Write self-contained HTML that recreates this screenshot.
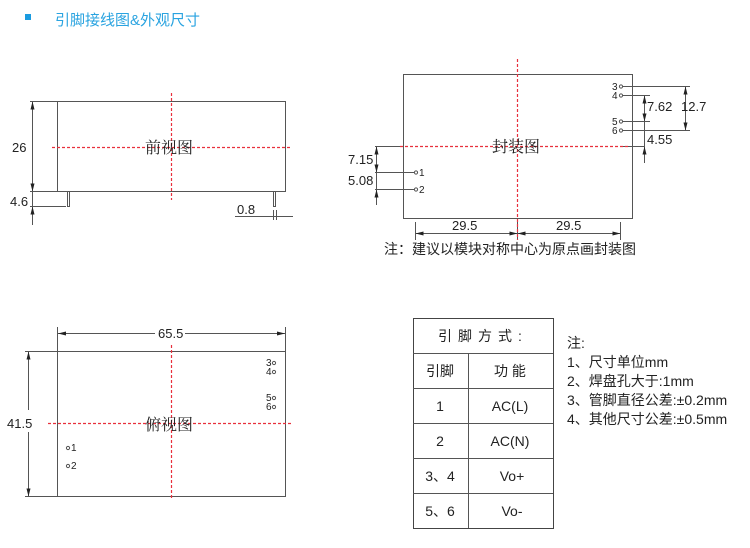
<!DOCTYPE html>
<html><head><meta charset="utf-8"><style>
body{margin:0;background:#fff;width:750px;height:548px;overflow:hidden}
svg{display:block}
text{font-family:"Liberation Sans","Noto Sans CJK SC",sans-serif;fill:#222}
.s{font-family:"Noto Serif CJK SC","Noto Sans CJK SC",serif}
</style></head><body>
<svg width="750" height="548" viewBox="0 0 750 548" xmlns="http://www.w3.org/2000/svg">
<defs>
<marker id="a" viewBox="0 0 10 10" refX="10" refY="5" markerWidth="8" markerHeight="8" orient="auto-start-reverse"><path d="M0,2.5 L10,5 L0,7.5z" fill="#222"/></marker>
</defs>
<rect x="25" y="14" width="6" height="6" fill="#1a9be0"/>
<text x="55" y="25" font-size="15" style="fill:#29a3e0">引脚接线图&amp;外观尺寸</text>

<g stroke="#555" fill="none" stroke-width="1">
<rect x="57.5" y="101.5" width="228" height="90"/>
<rect x="67.5" y="191.5" width="2" height="15"/>
<rect x="273.5" y="191.5" width="2" height="15"/>
<line x1="30" y1="101.5" x2="57" y2="101.5"/>
<line x1="30" y1="191.5" x2="57" y2="191.5"/>
<line x1="30" y1="206.5" x2="66" y2="206.5"/>
<line x1="32.5" y1="101.5" x2="32.5" y2="191.5" marker-start="url(#a)" marker-end="url(#a)"/>
<line x1="32.5" y1="191.5" x2="32.5" y2="225"/>
<line x1="32.5" y1="206.5" x2="32.5" y2="225" marker-start="url(#a)"/>
<line x1="235" y1="216.5" x2="293" y2="216.5"/>
<line x1="273.5" y1="210" x2="273.5" y2="220"/>
<line x1="276.5" y1="210" x2="276.5" y2="220"/>
<rect x="403.5" y="74.5" width="229" height="144"/>
<line x1="622" y1="86.5" x2="690" y2="86.5"/>
<line x1="622" y1="95.5" x2="650" y2="95.5"/>
<line x1="622" y1="121.5" x2="650" y2="121.5"/>
<line x1="622" y1="130.5" x2="690" y2="130.5"/>
<line x1="622" y1="146.5" x2="645" y2="146.5"/>
<line x1="644.5" y1="95.5" x2="644.5" y2="121.5" marker-start="url(#a)" marker-end="url(#a)"/>
<line x1="685.5" y1="86.5" x2="685.5" y2="130.5" marker-start="url(#a)" marker-end="url(#a)"/>
<line x1="644.5" y1="121.5" x2="644.5" y2="130.5"/>
<line x1="644.5" y1="130.5" x2="644.5" y2="146.5"/>
<line x1="644.5" y1="146.5" x2="644.5" y2="163" marker-start="url(#a)"/>
<line x1="375" y1="146.5" x2="400" y2="146.5"/>
<line x1="375" y1="172.5" x2="414" y2="172.5"/>
<line x1="375" y1="189.5" x2="414" y2="189.5"/>
<line x1="376.5" y1="146.5" x2="376.5" y2="172.5" marker-start="url(#a)" marker-end="url(#a)"/>
<line x1="376.5" y1="172.5" x2="376.5" y2="205"/>
<line x1="376.5" y1="189.5" x2="376.5" y2="205" marker-start="url(#a)"/>
<line x1="415.5" y1="222" x2="415.5" y2="240"/>
<line x1="517.5" y1="222" x2="517.5" y2="240"/>
<line x1="620.5" y1="222" x2="620.5" y2="240"/>
<line x1="415.5" y1="233.5" x2="517.5" y2="233.5" marker-start="url(#a)" marker-end="url(#a)"/>
<line x1="517.5" y1="233.5" x2="620.5" y2="233.5" marker-start="url(#a)" marker-end="url(#a)"/>
<rect x="57.5" y="351.5" width="228" height="145"/>
<line x1="57.5" y1="327" x2="57.5" y2="351"/>
<line x1="285.5" y1="327" x2="285.5" y2="351"/>
<line x1="58" y1="333.5" x2="155" y2="333.5" marker-start="url(#a)"/>
<line x1="185" y1="333.5" x2="285" y2="333.5" marker-end="url(#a)"/>
<line x1="25" y1="351.5" x2="57" y2="351.5"/>
<line x1="25" y1="496.5" x2="57" y2="496.5"/>
<line x1="28.5" y1="351.5" x2="28.5" y2="410" marker-start="url(#a)"/>
<line x1="28.5" y1="432" x2="28.5" y2="496.5" marker-end="url(#a)"/>
<circle cx="621" cy="86.5" r="1.6"/><circle cx="621" cy="95.5" r="1.6"/>
<circle cx="621" cy="121.5" r="1.6"/><circle cx="621" cy="130.5" r="1.6"/>
<circle cx="416" cy="172.5" r="1.6"/><circle cx="416" cy="189.5" r="1.6"/>
<circle cx="274" cy="363" r="1.6"/><circle cx="274" cy="372" r="1.6"/>
<circle cx="274" cy="398" r="1.6"/><circle cx="274" cy="407" r="1.6"/>
<circle cx="68" cy="448" r="1.6"/><circle cx="68" cy="466" r="1.6"/>
<rect x="413.5" y="318.5" width="140" height="210" stroke="#444"/>
<line x1="413" y1="353.5" x2="553" y2="353.5"/>
<line x1="413" y1="388.5" x2="553" y2="388.5"/>
<line x1="413" y1="423.5" x2="553" y2="423.5"/>
<line x1="413" y1="458.5" x2="553" y2="458.5"/>
<line x1="413" y1="493.5" x2="553" y2="493.5"/>
<line x1="468.5" y1="353" x2="468.5" y2="528"/>
</g>
<g stroke="#e8303c" stroke-width="1.2" stroke-dasharray="3,2" fill="none">
<path d="M171.5 93V200M52 147.5H291M517.5 59V240M400 146.5H630M171.5 345V500M48 423.5H293"/>
</g>
<g font-size="13">
<text x="12" y="152">26</text>
<text x="10" y="206">4.6</text>
<text x="237" y="214">0.8</text>
<text class="s" x="145" y="153" font-size="16">前视图</text>
<text class="s" x="492" y="152" font-size="16">封装图</text>
<text class="s" x="145" y="430" font-size="16">俯视图</text>
<text x="647" y="111">7.62</text>
<text x="681" y="111">12.7</text>
<text x="647" y="144">4.55</text>
<text x="348" y="164">7.15</text>
<text x="348" y="185">5.08</text>
<text x="452" y="230">29.5</text>
<text x="556" y="230">29.5</text>
<text x="158" y="338">65.5</text>
<text x="7" y="428">41.5</text>
<text x="384" y="254" font-size="14">注：建议以模块对称中心为原点画封装图</text>
</g>
<g font-size="10">
<text x="612" y="90">3</text><text x="612" y="99">4</text>
<text x="612" y="125">5</text><text x="612" y="134">6</text>
<text x="419" y="176">1</text><text x="419" y="193">2</text>
<text x="266" y="366">3</text><text x="266" y="375">4</text>
<text x="266" y="401">5</text><text x="266" y="410">6</text>
<text x="71" y="451">1</text><text x="71" y="469">2</text>
</g>
<g font-size="14" text-anchor="middle">
<text x="483" y="341" letter-spacing="6">引脚方式:</text>
<text x="440" y="376">引脚</text><text x="510" y="376">功 能</text>
<text x="440" y="411">1</text><text x="510" y="411">AC(L)</text>
<text x="440" y="446">2</text><text x="510" y="446">AC(N)</text>
<text x="440" y="481">3、4</text><text x="512" y="481">Vo+</text>
<text x="440" y="516">5、6</text><text x="512" y="516">Vo-</text>
</g>
<g font-size="14">
<text x="567" y="348">注:</text>
<text x="567" y="367">1、尺寸单位mm</text>
<text x="567" y="386">2、焊盘孔大于:1mm</text>
<text x="567" y="405">3、管脚直径公差:±0.2mm</text>
<text x="567" y="424">4、其他尺寸公差:±0.5mm</text>
</g>
</svg>
</body></html>
